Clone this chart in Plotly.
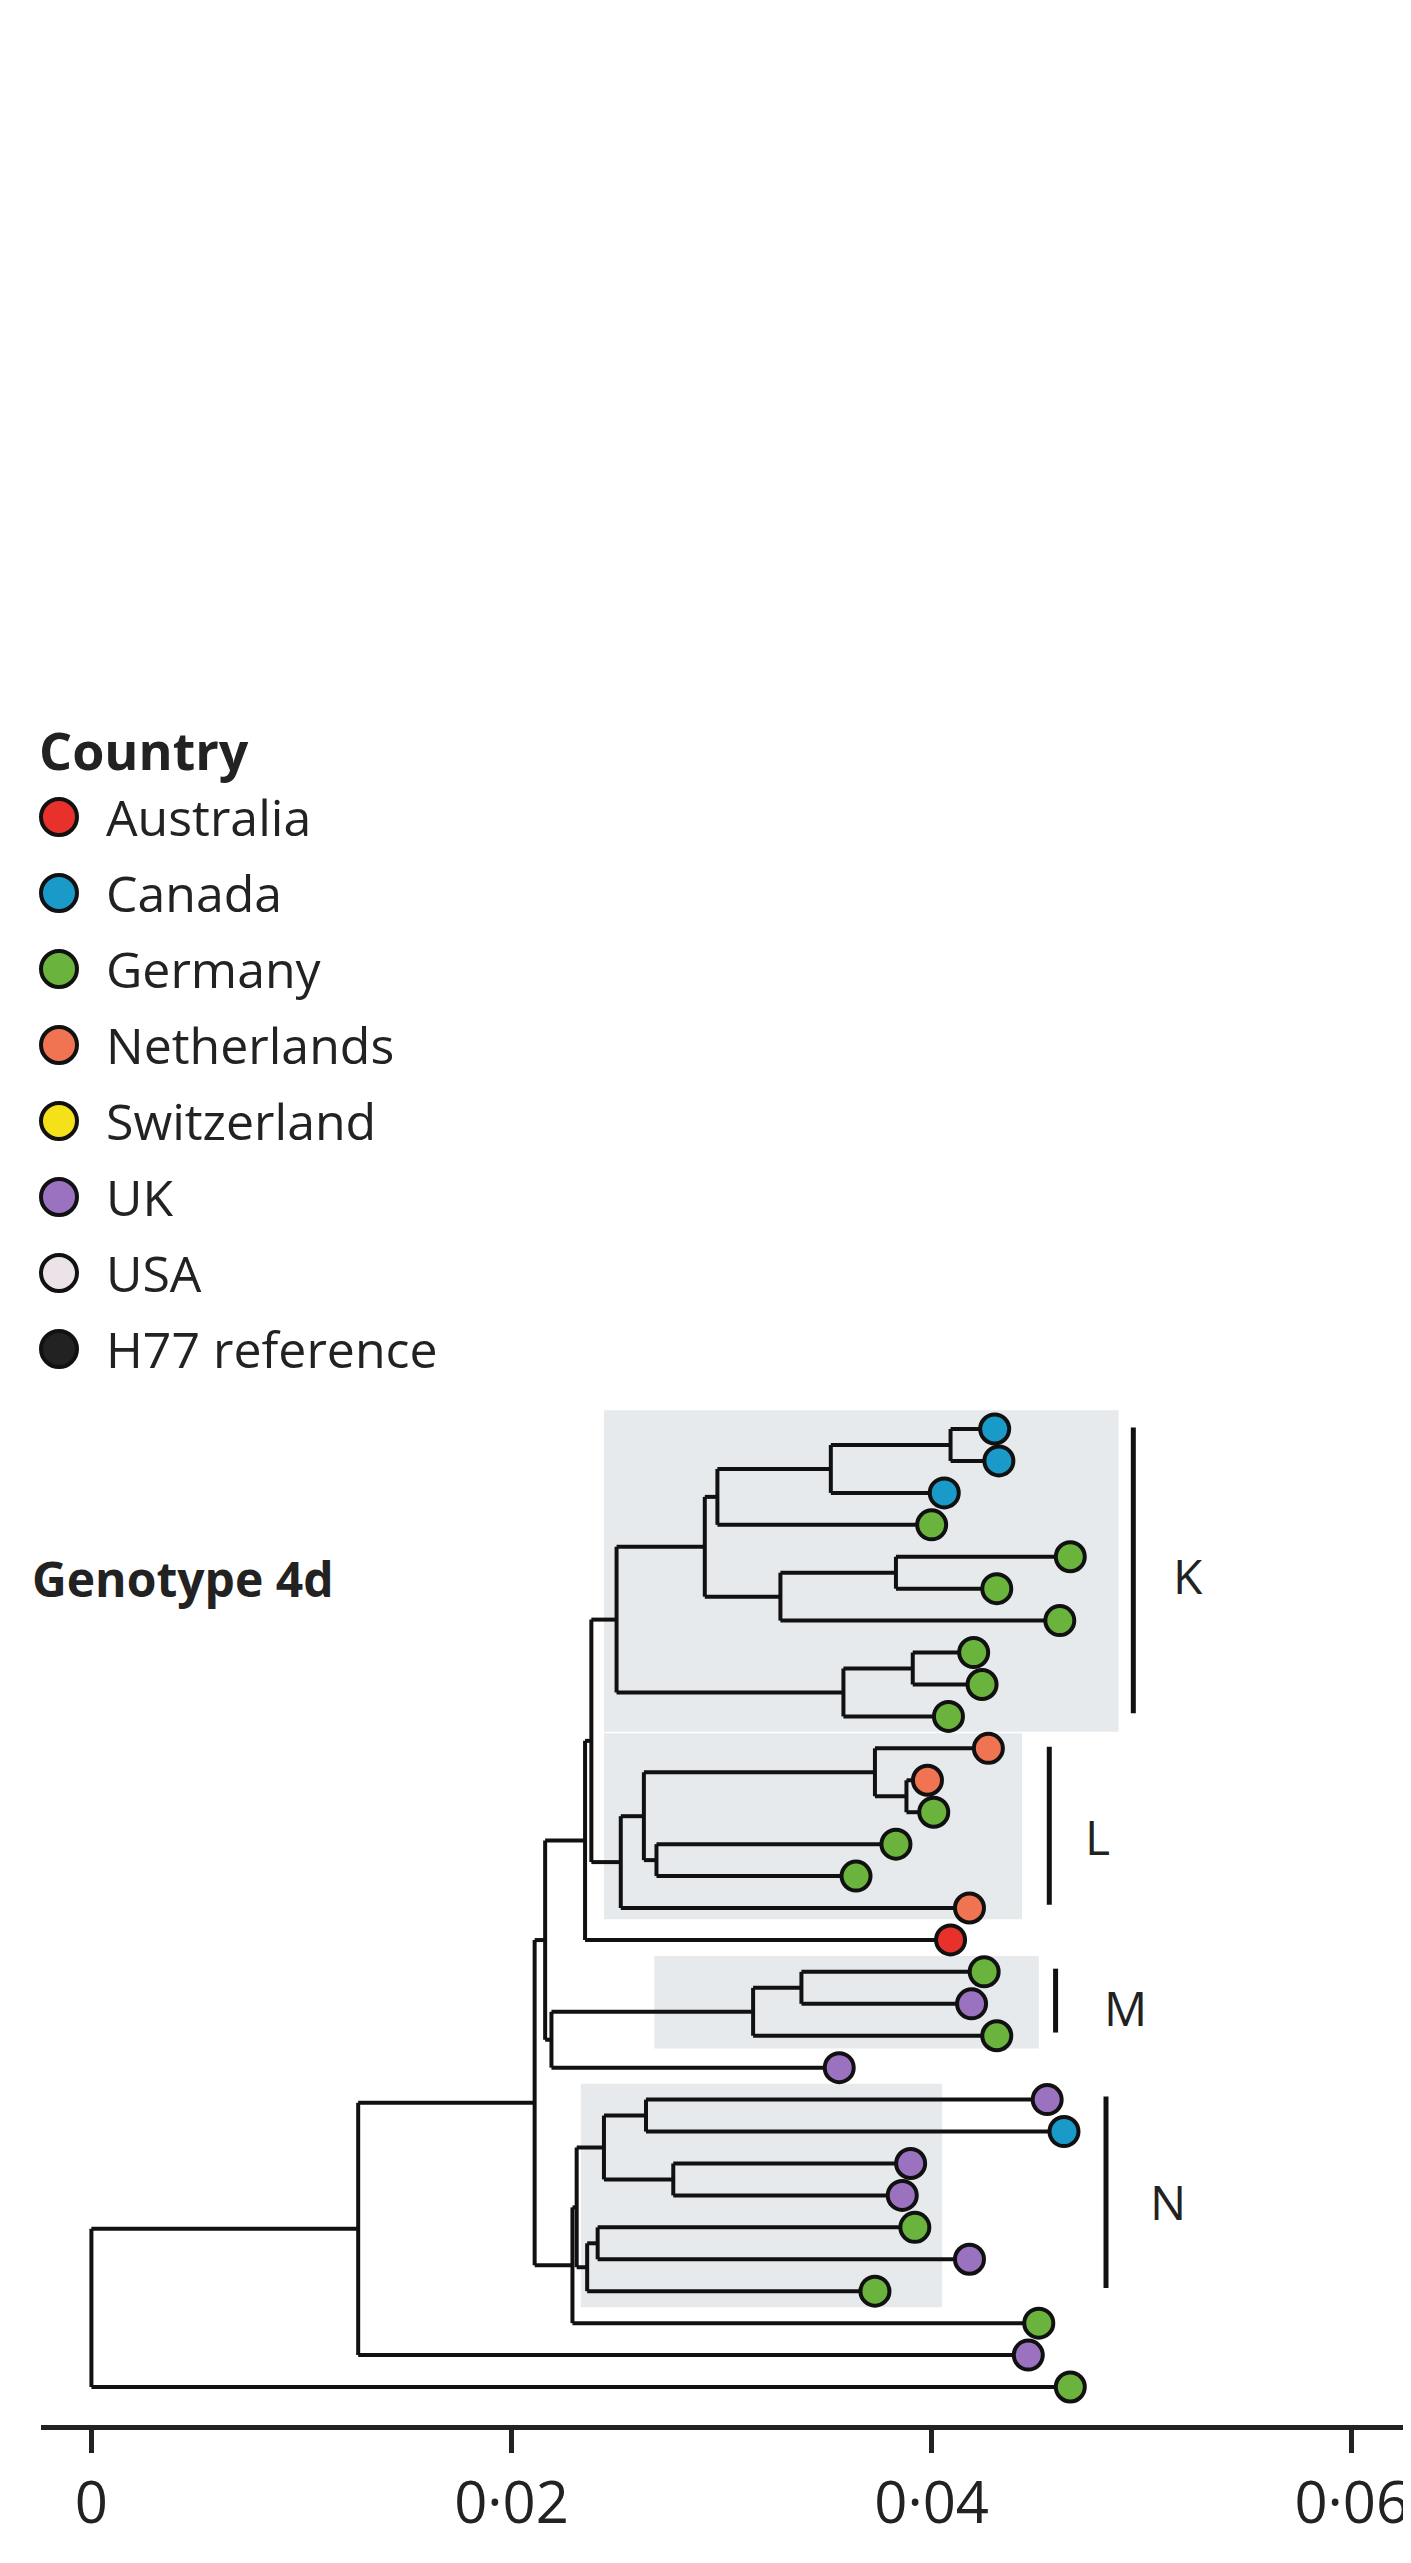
import plotly.graph_objects as go

W, H = 1411, 2563
ML, MB = 33, 146
PW, PH = W - ML, H - MB

countries = ["Australia", "Canada", "Germany", "Netherlands", "Switzerland", "UK", "USA", "H77 reference"]
colors = ["#e8312a", "#1a9ac9", "#6ab43e", "#f07451", "#f4e11a", "#9b72c0", "#ece3e8", "#222222"]

# tips top-to-bottom: branch-tip distance and country
tip_x = [0.0430, 0.0432, 0.0406, 0.0400, 0.0466, 0.0431, 0.0461, 0.0420, 0.0424, 0.0408,
         0.0427, 0.0398, 0.0401, 0.0383, 0.0364, 0.0418, 0.0409,
         0.0425, 0.0419, 0.0431, 0.0356,
         0.0455, 0.0463, 0.0390, 0.0386, 0.0392, 0.0418, 0.0373,
         0.0451, 0.0446, 0.0466]
tip_country = ["Canada", "Canada", "Canada", "Germany", "Germany", "Germany", "Germany", "Germany", "Germany", "Germany",
               "Netherlands", "Netherlands", "Germany", "Germany", "Germany", "Netherlands", "Australia",
               "Germany", "UK", "Germany", "UK",
               "UK", "Canada", "UK", "UK", "Germany", "UK", "Germany",
               "Germany", "UK", "Germany"]

# internal nodes: name, children (tip indices or node names), node x
nodes = [
    ("k1", [0, 1], 0.0409), ("k2", ["k1", 2], 0.0352), ("k3", ["k2", 3], 0.0298),
    ("k4", [4, 5], 0.0383), ("k5", ["k4", 6], 0.0328), ("k6", ["k3", "k5"], 0.0292),
    ("k7", [7, 8], 0.0391), ("k8", ["k7", 9], 0.0358), ("K", ["k6", "k8"], 0.0250),
    ("l1", [11, 12], 0.0388), ("l2", [10, "l1"], 0.0373), ("l3", [13, 14], 0.0269),
    ("l4", ["l2", "l3"], 0.0263), ("L", ["l4", 15], 0.0252),
    ("kl", ["K", "L"], 0.0238), ("kl2", ["kl", 16], 0.0235),
    ("m1", [17, 18], 0.0338), ("M", ["m1", 19], 0.0315), ("m2", ["M", 20], 0.0219),
    ("up", ["kl2", "m2"], 0.0216),
    ("n1", [21, 22], 0.0264), ("n2", [23, 24], 0.0277), ("n3", ["n1", "n2"], 0.0244),
    ("n4", [25, 26], 0.0241), ("n5", ["n4", 27], 0.0236), ("N", ["n3", "n5"], 0.0231),
    ("n6", ["N", 28], 0.0229), ("a1", ["up", "n6"], 0.0211),
    ("a2", ["a1", 29], 0.0127), ("root", ["a2", 30], 0.0),
]

clade_labels = ["K", "L", "M", "N"]
clade_box_x = [(0.0244, 0.0489), (0.0244, 0.0443), (0.0268, 0.0451), (0.0233, 0.0405)]
clade_box_y = [(-0.59, 9.48), (9.53, 15.35), (16.5, 19.4), (20.5, 27.5)]
clade_bar_x = [0.0496, 0.0456, 0.0459, 0.0483]
clade_bar_y = [(-0.05, 8.9), (9.95, 14.9), (16.9, 18.9), (20.9, 26.9)]
clade_text_x = [0.0514, 0.0472, 0.0481, 0.0503]
clade_text_y = [4.6, 12.75, 18.1, 24.2]

tick_vals = [0, 0.02, 0.04, 0.06]
tick_text = ["0", "0·02", "0·04", "0·06"]

pos = {i: (tip_x[i], float(i)) for i in range(len(tip_x))}
lx, ly = [], []
for name, ch, x in nodes:
    cy = [pos[c][1] for c in ch]
    y = (cy[0] + cy[-1]) / 2
    pos[name] = (x, y)
    lx += [x, x, None]; ly += [min(cy), max(cy), None]
    for c in ch:
        lx += [x, pos[c][0], None]; ly += [pos[c][1], pos[c][1], None]

fig = go.Figure()
shapes = []
for (x0, x1), (y0, y1) in zip(clade_box_x, clade_box_y):
    shapes.append(dict(type="rect", xref="x", yref="y", x0=x0, x1=x1, y0=y0, y1=y1,
                       fillcolor="#e6eaec", line=dict(width=0), layer="below"))
for bx, (y0, y1) in zip(clade_bar_x, clade_bar_y):
    shapes.append(dict(type="line", xref="x", yref="y", x0=bx, x1=bx, y0=y0, y1=y1,
                       line=dict(color="#111", width=5)))

fig.add_trace(go.Scatter(x=lx, y=ly, mode="lines", line=dict(color="#111", width=4),
                         hoverinfo="skip", showlegend=False))
cmap = dict(zip(countries, colors))
fig.add_trace(go.Scatter(x=tip_x, y=list(range(len(tip_x))), mode="markers",
                         marker=dict(size=29, color=[cmap[c] for c in tip_country],
                                     line=dict(color="#111", width=4)),
                         showlegend=False))

ann = []
for t, x, y in zip(clade_labels, clade_text_x, clade_text_y):
    ann.append(dict(x=x, y=y, xref="x", yref="y", text=t, showarrow=False,
                    xanchor="left", font=dict(size=48, color="#222")))

def px(p): return (p - ML) / PW
def py(p): return (PH - p) / PH

ann.append(dict(x=px(29), y=py(741), xref="paper", yref="paper", text="<b>Country</b>",
                showarrow=False, xanchor="left", yanchor="middle", font=dict(size=52, color="#222")))
for i, (c, col) in enumerate(zip(countries, colors)):
    yc = 809 + 76 * i
    shapes.append(dict(type="circle", xref="paper", yref="paper",
                       x0=px(51 - 18), x1=px(51 + 18), y0=py(yc + 18), y1=py(yc - 18),
                       fillcolor=col, line=dict(color="#111", width=4)))
    ann.append(dict(x=px(96), y=py(yc), xref="paper", yref="paper", text=c, showarrow=False,
                    xanchor="left", yanchor="middle", font=dict(size=50, color="#222")))
ann.append(dict(x=px(22), y=py(1570), xref="paper", yref="paper", text="<b>Genotype 4d</b>",
                showarrow=False, xanchor="left", yanchor="middle", font=dict(size=48, color="#222")))

fig.update_layout(
    width=W, height=H, margin=dict(l=ML, r=0, t=0, b=MB),
    paper_bgcolor="white", plot_bgcolor="white",
    font=dict(family="Open Sans, Noto Sans, sans-serif"),
    shapes=shapes, annotations=ann,
    xaxis=dict(range=[-0.0024, 0.0632], showgrid=False, zeroline=False,
               showline=True, linecolor="#222", linewidth=5,
               tickmode="array", tickvals=tick_vals, ticktext=tick_text,
               ticks="outside", ticklen=23, tickwidth=5, tickcolor="#222",
               tickfont=dict(size=58, color="#222")),
    yaxis=dict(range=[31.19, -44.5], visible=False),
)
fig.write_html("out.html")
